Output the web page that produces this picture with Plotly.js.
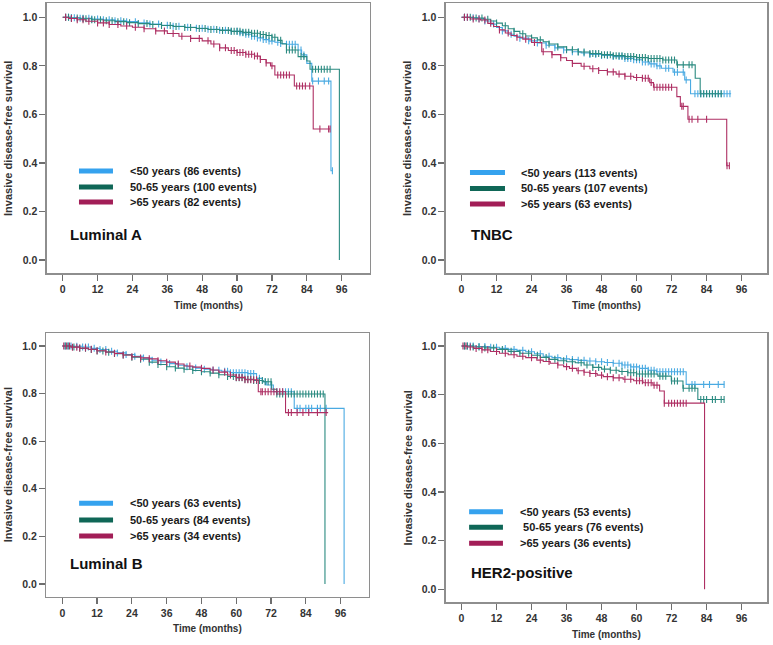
<!DOCTYPE html>
<html>
<head>
<meta charset="utf-8">
<script src="https://cdn.plot.ly/plotly-3.0.1.min.js"></script>
<style>html,body{margin:0;padding:0;background:#fff}</style>
</head>
<body>
<div id="chart" style="width:773px;height:645px"></div>
<script>
// Kaplan-Meier invasive disease-free survival by age group, four breast cancer subtypes.
// Each curve: event times (months) and survival from that time on; plus censoring times.

const xTickVals = [0, 12, 24, 36, 48, 60, 72, 84, 96];
const yTickVals = [0, 0.2, 0.4, 0.6, 0.8, 1.0];

const subtypeNames = ['Luminal A', 'TNBC', 'Luminal B', 'HER2-positive'];
const ageGroups = ['<50 years', '50-65 years', '>65 years'];

const lumA_events = [86, 100, 82];
const tnbc_events = [113, 107, 63];
const lumB_events = [63, 84, 34];
const her2_events = [53, 76, 36];

// ---- Luminal A ----
const lumA_u50_t = [0, 3, 6, 10, 14, 18, 22, 26, 30, 34, 38, 42, 46, 50, 54, 58, 61, 63, 65, 67, 69, 71, 73, 75, 77, 81, 82.2, 84, 85.7, 92.3, 92.9];
const lumA_u50_s = [1, 0.998, 0.996, 0.993, 0.99, 0.986, 0.982, 0.977, 0.972, 0.967, 0.963, 0.959, 0.955, 0.951, 0.947, 0.942, 0.936, 0.93, 0.922, 0.915, 0.908, 0.902, 0.897, 0.892, 0.889, 0.865, 0.845, 0.81, 0.737, 0.368, 0.368];
const lumA_u50_c = [1, 2, 3, 4, 6, 7, 9, 10, 12, 14, 16, 18, 20, 22, 25, 28, 30, 33, 36, 38, 40, 43, 46, 48, 50, 52, 54, 56, 58, 60, 61, 62, 63, 64, 65, 66, 67, 68, 69, 70, 71, 72, 74, 75, 77, 78, 79, 80, 82, 83, 86, 88, 90, 91.5, 92.8];

const lumA_mid_t = [0, 3, 6, 10, 14, 18, 22, 26, 30, 34, 38, 42, 46, 50, 54, 58, 62, 65, 68, 70, 72, 74, 75.5, 77, 81, 84, 85.1, 95.2];
const lumA_mid_s = [1, 0.997, 0.994, 0.99, 0.986, 0.982, 0.978, 0.974, 0.97, 0.966, 0.962, 0.958, 0.954, 0.95, 0.946, 0.942, 0.938, 0.934, 0.929, 0.925, 0.918, 0.905, 0.89, 0.865, 0.838, 0.82, 0.786, 0];
const lumA_mid_c = [1, 2, 3, 5, 7, 8, 10, 11, 13, 15, 17, 19, 21, 23, 26, 29, 31, 34, 37, 39, 42, 44, 47, 49, 51, 53, 55, 57, 58, 59, 60, 61, 62, 63, 64, 65, 66, 67, 68, 69, 70, 71, 72, 73, 75, 77, 78, 79, 80, 82, 83, 86, 87, 88, 89, 90, 91, 92];

const lumA_o65_t = [0, 2, 5, 8, 12, 16, 20, 24, 28, 32, 36, 40, 44, 48, 51, 54, 57, 60, 63, 66, 68, 70, 71.5, 73, 79.7, 86.2, 92];
const lumA_o65_s = [1, 0.995, 0.99, 0.984, 0.977, 0.97, 0.964, 0.959, 0.953, 0.944, 0.933, 0.922, 0.913, 0.903, 0.89, 0.874, 0.863, 0.855, 0.848, 0.84, 0.826, 0.812, 0.8, 0.762, 0.717, 0.54, 0.54];
const lumA_o65_c = [1, 3, 5, 7, 9, 12, 14, 16, 19, 22, 25, 28, 32, 35, 38, 41, 44, 47, 50, 52, 54, 56, 58, 59, 60, 61, 62, 63, 64, 65, 66, 67, 68, 70, 72, 74, 75, 76, 77, 78, 80.5, 81.5, 82.5, 83.5, 85, 88.5, 91.5, 92];

// ---- TNBC ----
const tnbc_u50_t = [0, 3, 5.5, 8, 10, 12, 14, 16, 18, 20, 23, 26, 29, 32, 35, 38, 41, 44, 48, 52, 56, 59, 62, 64.5, 66.8, 68.5, 72.5, 76.5, 78.5, 92.4];
const tnbc_u50_s = [1, 0.998, 0.994, 0.985, 0.972, 0.958, 0.944, 0.93, 0.922, 0.914, 0.903, 0.894, 0.885, 0.874, 0.865, 0.858, 0.853, 0.847, 0.843, 0.838, 0.83, 0.825, 0.816, 0.808, 0.8, 0.79, 0.774, 0.742, 0.685, 0.685];
const tnbc_u50_c = [1, 2, 4, 6, 8, 11, 14, 17, 20, 23, 26, 29, 32, 35, 38, 40, 42, 44, 46, 48, 50, 52, 54, 55, 56, 57, 58, 59, 60, 61, 62, 63, 64, 65, 66, 67, 68, 70, 71, 73, 74, 76, 77, 80, 81, 82, 83, 84, 85, 86, 87, 88, 89, 90, 91, 92];

const tnbc_mid_t = [0, 4, 7.6, 10, 12, 14, 16, 18, 20, 22, 24, 26, 28, 30, 33, 36, 40, 44, 48, 52, 56, 60, 64, 69, 73.8, 80.1, 81.8, 89.5];
const tnbc_mid_s = [1, 0.997, 0.992, 0.985, 0.976, 0.965, 0.953, 0.942, 0.932, 0.923, 0.915, 0.907, 0.899, 0.89, 0.878, 0.866, 0.857, 0.851, 0.846, 0.842, 0.838, 0.834, 0.83, 0.824, 0.804, 0.749, 0.685, 0.685];
const tnbc_mid_c = [1, 3, 5, 7, 9, 12, 15, 18, 21, 24, 27, 30, 33, 36, 38, 40, 42, 44, 45, 46, 47, 48, 49, 50, 51, 52, 53, 54, 55, 56, 57, 58, 59, 60, 61, 62, 63, 64, 65, 66, 67, 68, 69, 70, 71, 72, 73, 74, 76, 78, 79, 82, 83, 84, 85, 86, 87, 88, 89];

const tnbc_o65_t = [0, 3, 6.5, 9, 11, 13, 15, 17, 19, 21, 24, 27.5, 31, 34, 36, 38, 41, 44, 47, 50, 53, 56, 59, 62, 64.5, 65.8, 73.8, 75, 77.6, 90.9, 91.8];
const tnbc_o65_s = [1, 0.993, 0.989, 0.975, 0.962, 0.948, 0.935, 0.925, 0.918, 0.91, 0.896, 0.858, 0.846, 0.833, 0.822, 0.81, 0.798, 0.788, 0.781, 0.775, 0.766, 0.757, 0.752, 0.749, 0.731, 0.712, 0.673, 0.633, 0.58, 0.388, 0.388];
const tnbc_o65_c = [1, 2, 4, 6, 8, 10, 13, 16, 19, 22, 25, 28, 31, 34, 38, 42, 45, 47, 50, 52, 54, 56, 58, 60, 62, 63, 64, 65, 66, 67, 68, 69, 70, 71, 72, 75.5, 76, 78, 79, 81, 84, 91, 91.8];

// ---- Luminal B ----
const lumB_u50_t = [0, 4, 7, 10, 13, 16, 19, 22, 25, 28, 31, 34, 37, 40, 43, 46, 49, 52, 55, 57.8, 64, 67, 69, 70.5, 72.8, 80, 97.2];
const lumB_u50_s = [1, 0.999, 0.996, 0.99, 0.985, 0.978, 0.971, 0.964, 0.957, 0.949, 0.94, 0.933, 0.926, 0.919, 0.913, 0.907, 0.902, 0.898, 0.894, 0.888, 0.884, 0.864, 0.85, 0.836, 0.808, 0.738, 0];
const lumB_u50_c = [1, 2, 3, 5, 7, 8, 9, 11, 13, 15, 17, 19, 22, 25, 28, 31, 34, 37, 40, 43, 46, 49, 52, 54, 56, 57, 58, 59, 60, 61, 62, 63, 64, 65, 66, 68, 70, 72, 74, 76, 77, 78, 79, 81, 82, 84, 85, 86, 88, 89, 91];

const lumB_mid_t = [0, 3, 6, 9, 12, 15, 18, 21, 24, 27, 30, 33, 36, 39, 42, 45, 48, 51, 54, 57, 60, 63, 66, 69.3, 72.2, 73.9, 90.6];
const lumB_mid_s = [1, 0.996, 0.99, 0.985, 0.979, 0.974, 0.968, 0.962, 0.953, 0.944, 0.932, 0.922, 0.913, 0.907, 0.902, 0.897, 0.892, 0.886, 0.879, 0.872, 0.866, 0.86, 0.855, 0.85, 0.818, 0.798, 0];
const lumB_mid_c = [1, 2, 4, 6, 8, 10, 12, 14, 16, 18, 21, 24, 27, 30, 33, 36, 39, 42, 45, 48, 51, 54, 57, 59, 60, 61, 62, 63, 64, 65, 66, 67, 68, 69, 70, 71, 72, 74, 75, 76, 77, 78, 79, 80, 81, 82, 83, 84, 85, 86, 87, 88, 89, 90];

const lumB_o65_t = [0, 3, 6, 9, 12, 15, 18, 21, 24, 27, 30, 33, 36, 39, 42, 45, 48, 51, 54, 57, 60, 63, 67.6, 77, 91.7];
const lumB_o65_s = [1, 0.995, 0.991, 0.986, 0.98, 0.975, 0.969, 0.962, 0.955, 0.95, 0.946, 0.938, 0.932, 0.924, 0.916, 0.911, 0.906, 0.899, 0.89, 0.878, 0.868, 0.858, 0.808, 0.72, 0.72];
const lumB_o65_c = [0.5, 1.5, 2.5, 3.5, 5, 6, 8, 10, 12, 15, 18, 21, 24, 27, 30, 33, 36, 40, 44, 48, 52, 56, 58, 60, 61, 62, 63, 64, 65, 66, 67, 68.5, 69, 70, 71, 72, 73, 74, 75, 76, 78, 79, 81, 83, 85, 88, 91];

// ---- HER2-positive ----
const her2_u50_t = [0, 5, 9.9, 13, 16, 19, 22, 25, 28, 31, 34, 37, 40, 43, 46, 49, 52, 55, 58, 61, 64, 66.8, 77, 90.1];
const her2_u50_s = [1, 0.998, 0.995, 0.99, 0.986, 0.982, 0.976, 0.968, 0.958, 0.952, 0.947, 0.944, 0.941, 0.938, 0.935, 0.932, 0.929, 0.922, 0.914, 0.908, 0.9, 0.894, 0.842, 0.842];
const her2_u50_c = [1, 2, 3, 4, 6, 8, 10, 12, 15, 18, 21, 24, 27, 30, 33, 36, 38, 40, 42, 44, 46, 48, 50, 52, 54, 55, 56, 57, 58, 59, 60, 61, 62, 63, 64, 65, 66, 67, 68, 69, 70, 71, 72, 73, 74, 75, 76, 79, 80, 83, 85, 88, 90];

const her2_mid_t = [0, 4, 8, 12, 16, 20, 24, 27, 30, 33, 36, 39, 42, 45, 48, 51, 54, 57, 60, 67.3, 71.9, 75.9, 81, 90.1];
const her2_mid_s = [1, 0.996, 0.992, 0.986, 0.978, 0.97, 0.962, 0.953, 0.945, 0.939, 0.935, 0.931, 0.922, 0.912, 0.905, 0.9, 0.895, 0.89, 0.885, 0.876, 0.856, 0.826, 0.78, 0.78];
const her2_mid_c = [1, 2, 4, 6, 8, 11, 14, 17, 20, 23, 26, 29, 32, 35, 38, 41, 43, 45, 47, 49, 51, 53, 55, 57, 58, 59, 60, 61, 62, 63, 64, 65, 66, 68, 69, 70, 72, 73, 74, 76, 78, 79, 80, 82, 83, 84, 86, 87, 89, 90];

const her2_o65_t = [0, 2, 4.2, 7, 9.9, 13, 16, 19, 22, 25.8, 28, 30.4, 33, 35, 37, 39.5, 42, 44, 46.5, 48.6, 52, 55.4, 59, 62.2, 65.6, 67.9, 69.5, 83.3];
const her2_o65_s = [1, 0.996, 0.99, 0.984, 0.977, 0.97, 0.964, 0.958, 0.952, 0.942, 0.936, 0.929, 0.922, 0.915, 0.908, 0.898, 0.892, 0.887, 0.88, 0.874, 0.869, 0.863, 0.857, 0.849, 0.839, 0.815, 0.765, 0];
const her2_o65_c = [0.5, 1.5, 3, 5, 7, 9, 12, 15, 18, 21, 24, 27, 30, 33, 36, 38, 40, 42, 44, 46, 48, 50, 52, 54, 56, 58, 60, 61, 62, 63, 64, 65, 66, 67, 69.5, 71, 72, 73, 74, 75, 76, 77];

// ---- styling ----
const lineColors = ['#4aaae2', '#2a8a80', '#ae2f63'];
const swatchColors = ['#35a2ee', '#0f6757', '#a21e57'];
const FONT = 'Liberation Sans, Arial, sans-serif';

function survivalAt(t, T, S) {
  let v = S[0];
  for (let i = 0; i < T.length; i++) { if (T[i] <= t) v = S[i]; else break; }
  return v;
}

const panels = [
  { name: subtypeNames[0], events: lumA_events, curves: [[lumA_u50_t, lumA_u50_s, lumA_u50_c], [lumA_mid_t, lumA_mid_s, lumA_mid_c], [lumA_o65_t, lumA_o65_s, lumA_o65_c]],
    xd: [0.0604, 0.4787], yd: [0.5763, 0.9949], xr: [-5.51, 105.75], yr: [-0.0548, 1.0577],
    leg: { x0: 5.6, x1: 17.3, tx: 22.5, ys: [0.367, 0.301, 0.239] }, lab: [1.9, 0.103], indent: ['', '', ''] },
  { name: subtypeNames[1], events: tnbc_events, curves: [[tnbc_u50_t, tnbc_u50_s, tnbc_u50_c], [tnbc_mid_t, tnbc_mid_s, tnbc_mid_c], [tnbc_o65_t, tnbc_o65_s, tnbc_o65_c]],
    xd: [0.5766, 0.9926], yd: [0.5763, 0.9949], xr: [-5.42, 104.8], yr: [-0.0548, 1.0577],
    leg: { x0: 2.9, x1: 14.9, tx: 19.7, ys: [0.36, 0.295, 0.231] }, lab: [2.6, 0.103], indent: ['', '', ''] },
  { name: subtypeNames[2], events: lumB_events, curves: [[lumB_u50_t, lumB_u50_s, lumB_u50_c], [lumB_mid_t, lumB_mid_s, lumB_mid_c], [lumB_o65_t, lumB_o65_s, lumB_o65_c]],
    xd: [0.0599, 0.4774], yd: [0.0749, 0.4833], xr: [-5.52, 105.8], yr: [-0.0534, 1.0534],
    leg: { x0: 5.8, x1: 17.5, tx: 22.7, ys: [0.339, 0.269, 0.202] }, lab: [2.0, 0.088], indent: ['', '', ''] },
  { name: subtypeNames[3], events: her2_events, curves: [[her2_u50_t, her2_u50_s, her2_u50_c], [her2_mid_t, her2_mid_s, her2_mid_c], [her2_o65_t, her2_o65_s, her2_o65_c]],
    xd: [0.5766, 0.9926], yd: [0.0662, 0.4833], xr: [-5.42, 104.8], yr: [-0.0534, 1.0522],
    leg: { x0: 2.6, x1: 14.2, tx: 19.4, ys: [0.319, 0.255, 0.189] }, lab: [2.6, 0.071], indent: ['', '\u00a0', ''] }
];

const traces = [];
const shapes = [];
const annotations = [];
const layout = {
  width: 773, height: 645, autosize: false,
  margin: { l: 0, r: 0, t: 0, b: 0 },
  paper_bgcolor: '#ffffff', plot_bgcolor: '#ffffff',
  showlegend: false,
  font: { family: FONT, color: '#222' }
};

panels.forEach((p, k) => {
  const n = k + 1;
  const xa = n === 1 ? 'x' : 'x' + n;
  const ya = n === 1 ? 'y' : 'y' + n;
  const axisCommon = {
    showgrid: false, zeroline: false, showline: true, mirror: true,
    linecolor: '#8e8e8e', linewidth: 1.3,
    ticks: 'outside', ticklen: 6, tickwidth: 1.2, tickcolor: '#6e6e6e',
    tickfont: { family: FONT, size: 10.5, color: '#333', weight: 'bold' },
    fixedrange: true
  };
  layout['xaxis' + (n === 1 ? '' : n)] = Object.assign({}, axisCommon, {
    domain: p.xd, range: p.xr, tickmode: 'array', tickvals: xTickVals, anchor: ya
  });
  layout['yaxis' + (n === 1 ? '' : n)] = Object.assign({}, axisCommon, {
    domain: p.yd, range: p.yr, tickmode: 'array', tickvals: yTickVals, tickformat: '.1f', anchor: xa
  });

  p.curves.forEach(([T, S, C], g) => {
    traces.push({
      type: 'scatter', mode: 'lines', x: T, y: S, xaxis: xa, yaxis: ya,
      line: { shape: 'hv', color: lineColors[g], width: 1.1 }, hoverinfo: 'skip'
    });
    // censoring ticks
    traces.push({
      type: 'scatter', mode: 'markers', x: C, y: C.map(t => survivalAt(t, T, S)), xaxis: xa, yaxis: ya,
      marker: { symbol: 'line-ns-open', size: 5, color: lineColors[g], line: { color: lineColors[g], width: 1.1 } },
      hoverinfo: 'skip'
    });
    // legend swatch and label
    shapes.push({
      type: 'line', xref: xa, yref: ya, x0: p.leg.x0, x1: p.leg.x1, y0: p.leg.ys[g], y1: p.leg.ys[g],
      line: { color: swatchColors[g], width: 5 }
    });
    annotations.push({
      xref: xa, yref: ya, x: p.leg.tx, y: p.leg.ys[g], xanchor: 'left', yanchor: 'middle', showarrow: false,
      text: p.indent[g] + ageGroups[g] + ' (' + p.events[g] + ' events)',
      font: { family: FONT, size: 11, color: '#1a1a1a', weight: 'bold' }
    });
  });

  annotations.push({
    xref: xa, yref: ya, x: p.lab[0], y: p.lab[1], xanchor: 'left', yanchor: 'middle', showarrow: false,
    text: p.name, font: { family: FONT, size: 15, color: '#111', weight: 'bold' }
  });
  annotations.push({
    xref: xa + ' domain', yref: ya + ' domain', x: 0.5, y: 0, yshift: -32, xanchor: 'center', yanchor: 'middle',
    showarrow: false, text: 'Time (months)', font: { family: FONT, size: 10, color: '#333', weight: 'bold' }
  });
  annotations.push({
    xref: xa + ' domain', yref: ya + ' domain', x: 0, xshift: -38, y: 0.5, xanchor: 'center', yanchor: 'middle',
    textangle: -90, showarrow: false, text: 'Invasive disease-free survival',
    font: { family: FONT, size: 11, color: '#333', weight: 'bold' }
  });
});

layout.shapes = shapes;
layout.annotations = annotations;

Plotly.newPlot('chart', traces, layout, { staticPlot: true, displayModeBar: false });
</script>
</body>
</html>
